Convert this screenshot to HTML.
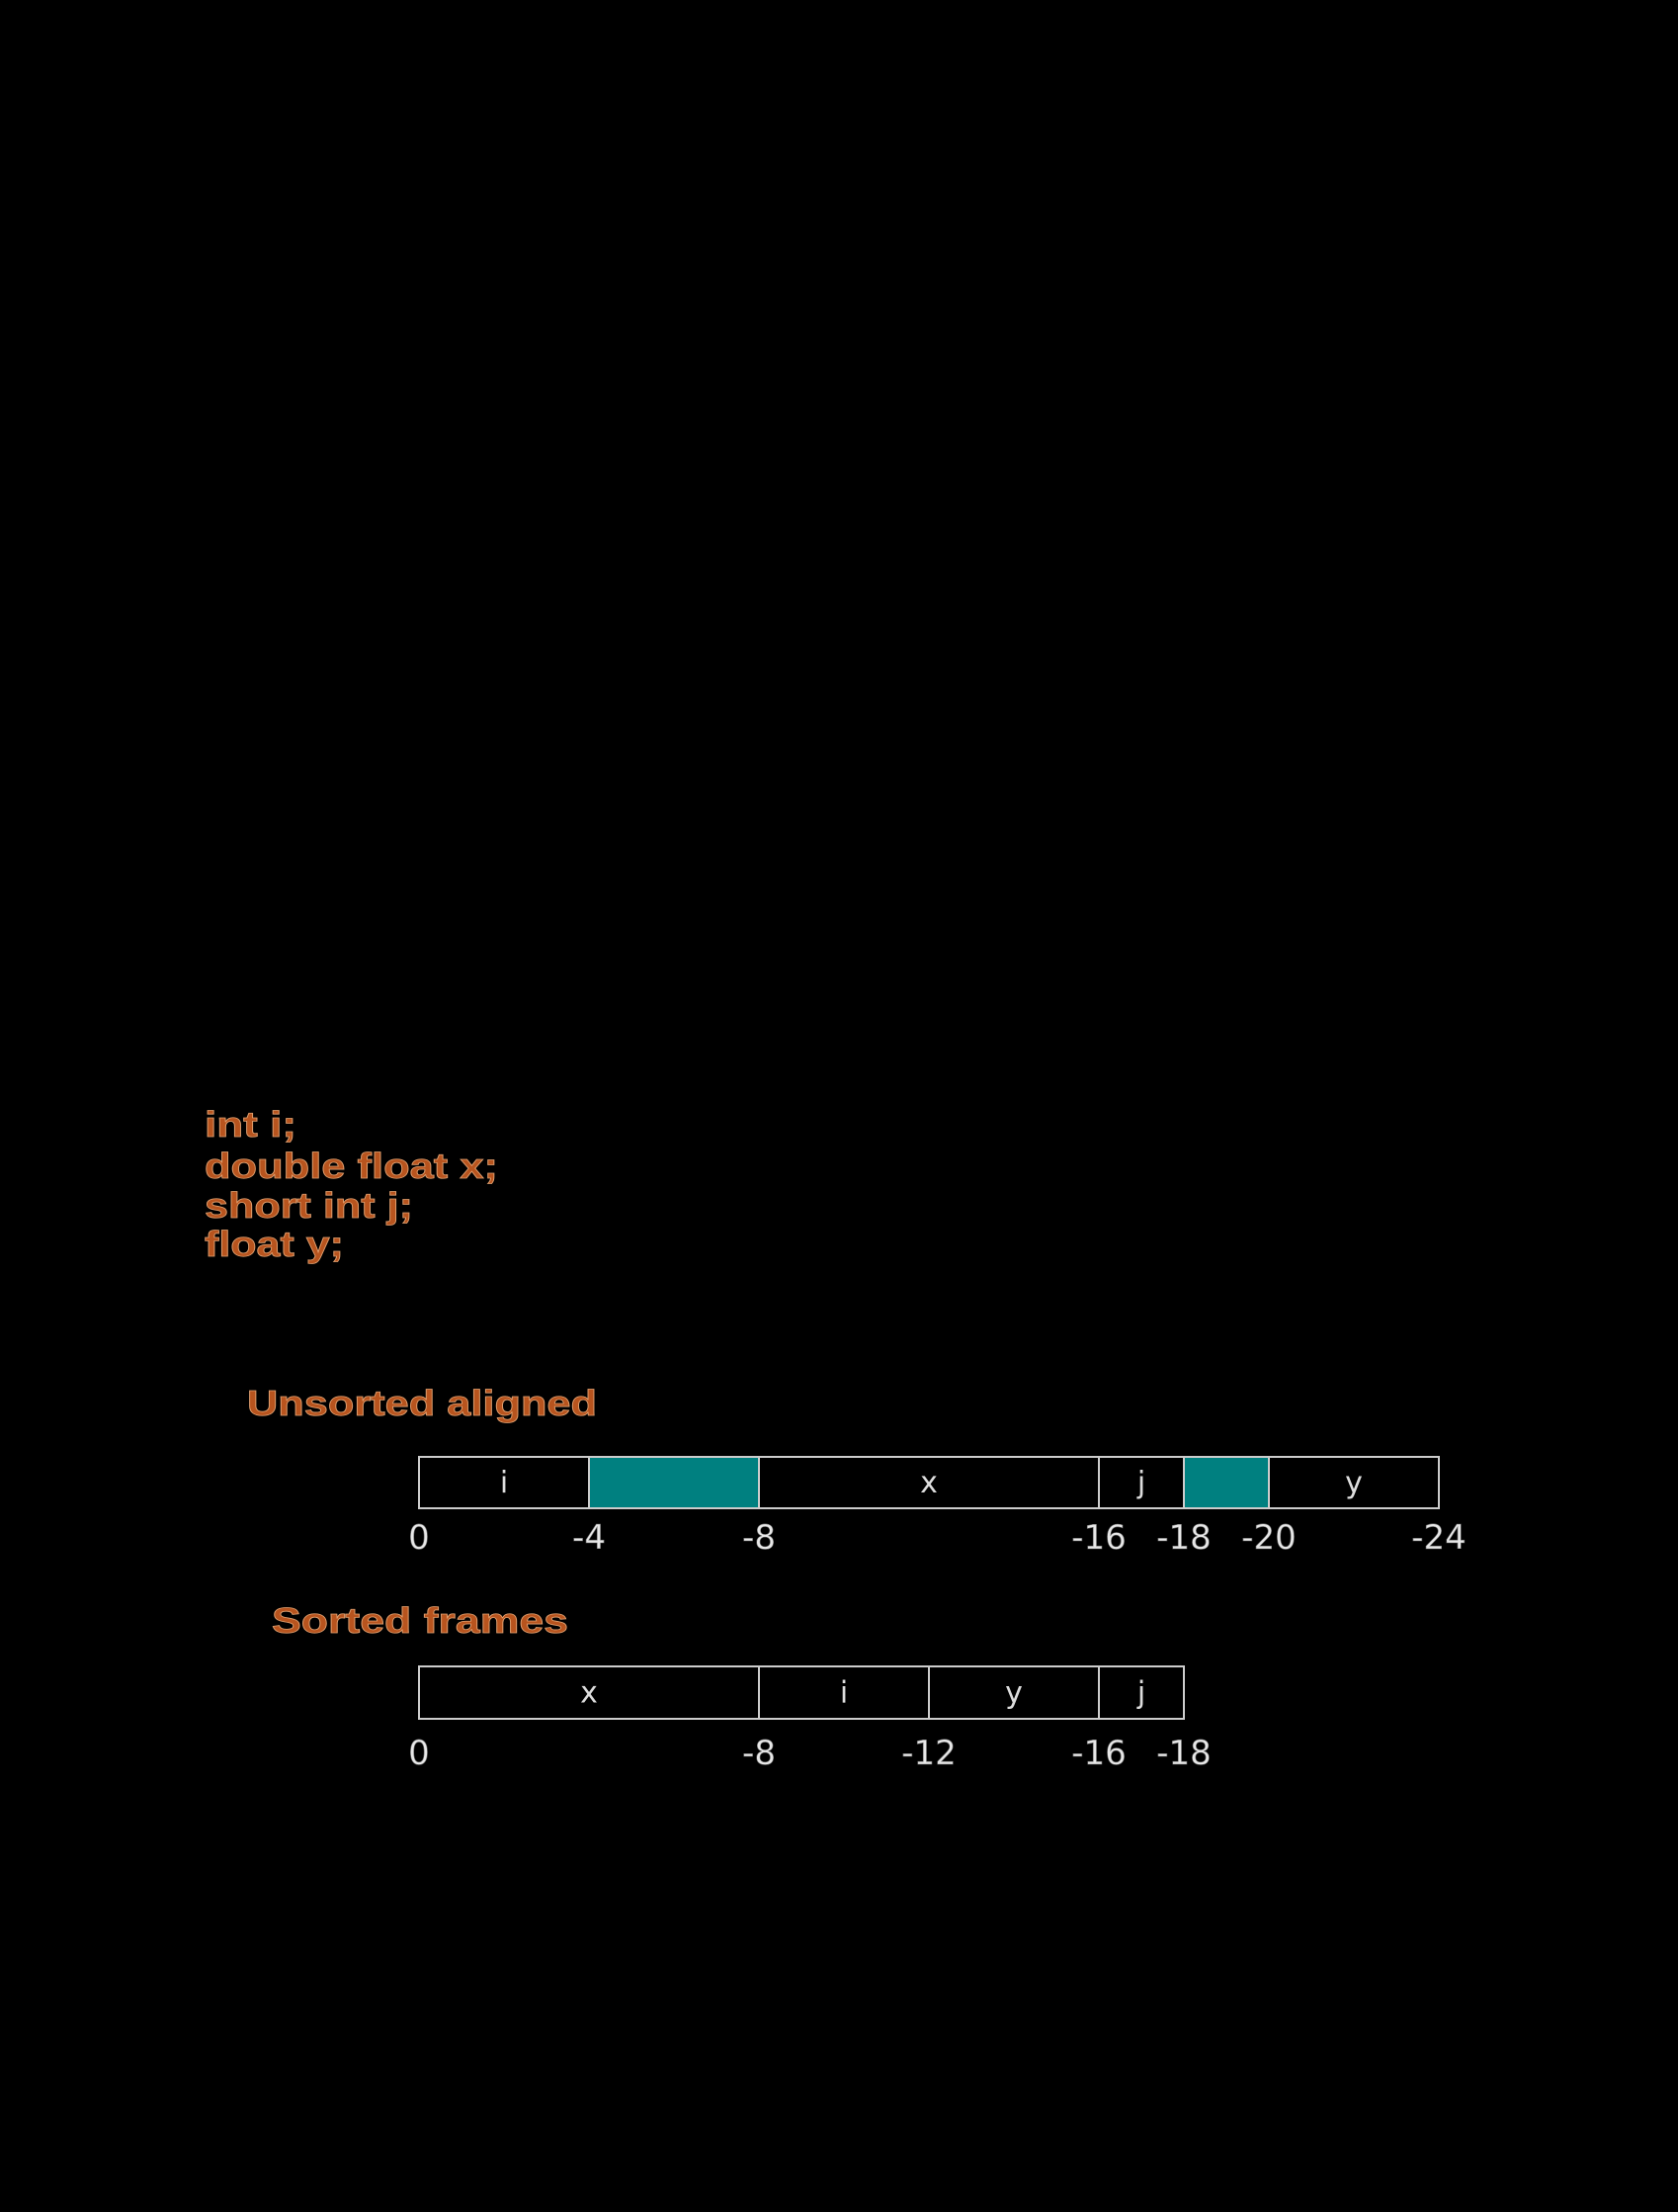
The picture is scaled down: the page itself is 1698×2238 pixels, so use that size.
<!DOCTYPE html>
<html><head><meta charset="utf-8"><style>
html,body{margin:0;padding:0;background:#000;}
svg{display:block}
.code{font-family:"Liberation Sans",sans-serif;font-weight:bold;font-size:36px;fill:#b8541e;stroke:#e0a070;stroke-width:0.8px}
.lbl{font-family:"DejaVu Sans","Liberation Sans",sans-serif;font-size:34px;fill:#e8e8e8;stroke:#666;stroke-width:0.6px}
.cell{font-family:"DejaVu Sans","Liberation Sans",sans-serif;font-size:30px;fill:#ddd}
</style></head><body>
<svg id="chart" width="1698" height="2238" viewBox="0 0 1698 2238" xmlns="http://www.w3.org/2000/svg">
<rect width="1698" height="2238" fill="#000"/>
<g>
<text class="code" x="207" y="1150" textLength="93" lengthAdjust="spacingAndGlyphs">int i;</text>
<text class="code" x="207" y="1192" textLength="297" lengthAdjust="spacingAndGlyphs">double float x;</text>
<text class="code" x="207" y="1232" textLength="211" lengthAdjust="spacingAndGlyphs">short int j;</text>
<text class="code" x="207" y="1271" textLength="141" lengthAdjust="spacingAndGlyphs">float y;</text>
</g>
<text class="code" x="250" y="1432" textLength="354" lengthAdjust="spacingAndGlyphs">Unsorted aligned</text>
<text class="code" x="275" y="1652" textLength="300" lengthAdjust="spacingAndGlyphs">Sorted frames</text>
<g id="bars"></g>
</svg>
<script>
const unsortedNames = ["i", "", "x", "j", "", "y"];
const unsortedStarts = [0, 4, 8, 16, 18, 20];
const unsortedEnds = [4, 8, 16, 18, 20, 24];
const unsortedPadding = [false, true, false, false, true, false];
const unsortedTicks = [0, 4, 8, 16, 18, 20, 24];
const sortedNames = ["x", "i", "y", "j"];
const sortedStarts = [0, 8, 12, 16];
const sortedEnds = [8, 12, 16, 18];
const sortedTicks = [0, 8, 12, 16, 18];

const NS = "http://www.w3.org/2000/svg";
const X0 = 424, UNIT = 43;
function xPos(v){ return X0 + v * UNIT; }
const g = document.getElementById("bars");

function drawRow(prefix, names, starts, ends, pads, ticks, top, bottom, tickY){
  for (let k = 0; k < names.length; k++){
    const r = document.createElementNS(NS, "rect");
    r.setAttribute("x", xPos(starts[k]));
    r.setAttribute("y", top);
    r.setAttribute("width", xPos(ends[k]) - xPos(starts[k]));
    r.setAttribute("height", bottom - top);
    r.setAttribute("fill", pads && pads[k] ? "#008080" : "#000");
    r.setAttribute("stroke", "#ccc");
    r.setAttribute("stroke-width", "2");
    
    
    g.appendChild(r);
    if (names[k]){
      const t = document.createElementNS(NS, "text");
      t.setAttribute("class", "cell");
      t.setAttribute("x", (xPos(starts[k]) + xPos(ends[k])) / 2);
      t.setAttribute("y", (top + bottom) / 2 + 10);
      t.setAttribute("text-anchor", "middle");
      t.textContent = names[k];
      
      
      g.appendChild(t);
    }
  }
  for (let k = 0; k < ticks.length; k++){
    const t = document.createElementNS(NS, "text");
    t.setAttribute("class", "lbl");
    t.setAttribute("x", xPos(ticks[k]));
    t.setAttribute("y", tickY);
    t.setAttribute("text-anchor", "middle");
    t.textContent = ticks[k] === 0 ? "0" : "-" + ticks[k];
    
    
    g.appendChild(t);
  }
}
drawRow("unsorted", unsortedNames, unsortedStarts, unsortedEnds, unsortedPadding, unsortedTicks, 1474, 1526, 1567);
drawRow("sorted", sortedNames, sortedStarts, sortedEnds, null, sortedTicks, 1686, 1739, 1785);
</script>
</body></html>
